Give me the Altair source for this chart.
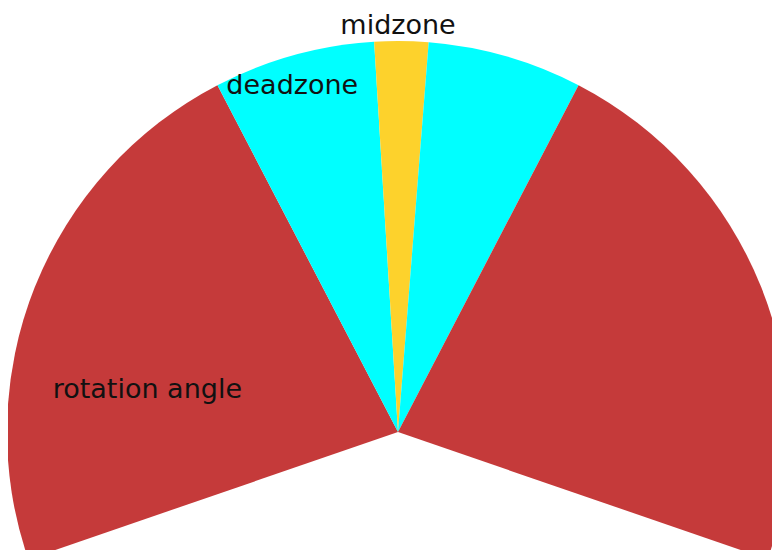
import math
import altair as alt
import pandas as pd

# wedge data (angles in degrees, 0 = straight up, clockwise positive)
zones = ["rotation angle", "deadzone", "midzone", "deadzone", "rotation angle"]
starts = [-109.0, -27.5, -3.5, 4.5, 27.5]
ends = [-27.5, -3.5, 4.5, 27.5, 109.0]

label_texts = ["midzone", "deadzone", "rotation angle"]
label_angles = [0.0, -17.0, -80.5]
label_radii = [1.038, 0.925, 0.650]

slices = pd.DataFrame({"zone": zones, "start": starts, "end": ends})
labels = pd.DataFrame({"text": label_texts, "angle": label_angles, "r": label_radii})

R = 391
CX, CY = 390, 424
theta_scale = alt.Scale(domain=[-180, 180], range=[-math.pi, math.pi])
color_scale = alt.Scale(
    domain=["rotation angle", "deadzone", "midzone"],
    range=["#C53A3A", "#00FFFF", "#FDD22C"],
)

arcs = alt.Chart(slices).mark_arc(stroke=None).encode(
    theta=alt.Theta("start:Q", scale=theta_scale, stack=False),
    theta2="end:Q",
    color=alt.Color("zone:N", scale=color_scale, legend=None),
    radius=alt.value(R),
    x=alt.value(CX),
    y=alt.value(CY),
)

texts = alt.Chart(labels).mark_text(
    font="DejaVu Sans", fontSize=27, color="#111111", align="center", baseline="middle"
).encode(
    theta=alt.Theta("angle:Q", scale=theta_scale, stack=False),
    radius=alt.Radius("r:Q", scale=alt.Scale(domain=[0, 1], range=[0, R], zero=True)),
    text="text:N",
    x=alt.value(CX),
    y=alt.value(CY),
)

chart = alt.layer(arcs, texts).properties(
    width=764, height=542, padding=0, autosize=alt.AutoSizeParams(type="none")
).configure_view(stroke=None)

chart.save("out.html", embed_options={"renderer": "svg", "actions": False})
